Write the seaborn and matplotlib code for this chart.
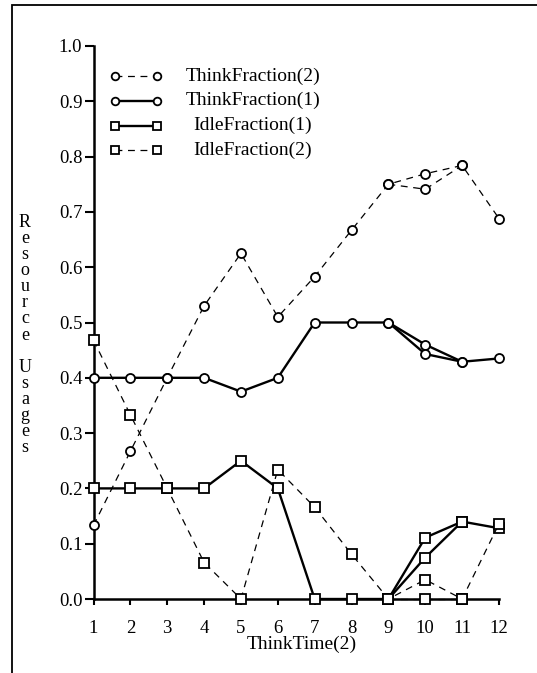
import matplotlib
matplotlib.use("Agg")
import matplotlib.pyplot as plt
import seaborn as sns
import pandas as pd
from matplotlib.lines import Line2D
from matplotlib.patches import Rectangle

# ---- data ----
think_time = [1, 2, 3, 4, 5, 6, 7, 8, 9, 10, 11, 12]
think_fraction_2 = [0.133, 0.267, 0.400, 0.530, 0.625, 0.510, 0.583, 0.667, 0.750, 0.769, 0.784, 0.688]
think_fraction_1 = [0.400, 0.400, 0.400, 0.400, 0.375, 0.400, 0.500, 0.500, 0.500, 0.460, 0.429, 0.435]
idle_fraction_1 = [0.200, 0.200, 0.200, 0.200, 0.250, 0.200, 0.000, 0.000, 0.000, 0.111, 0.140, 0.128]
idle_fraction_2 = [0.468, 0.333, 0.200, 0.066, 0.000, 0.234, 0.166, 0.081, 0.000, 0.035, 0.000, 0.136]
# second run differs only at ThinkTime 10
alt_x = [9, 10, 11]
think_fraction_2_alt10 = 0.741
think_fraction_1_alt10 = 0.443
idle_fraction_1_alt10 = 0.075
idle_fraction_2_alt10 = 0.000

labels = ["ThinkFraction(2)", "ThinkFraction(1)", "IdleFraction(1)", "IdleFraction(2)"]
y_ticks = [0.0, 0.1, 0.2, 0.3, 0.4, 0.5, 0.6, 0.7, 0.8, 0.9, 1.0]

sns.set_theme(style="white")
plt.rcParams["font.family"] = ["Liberation Serif", "DejaVu Serif"]

W, H = 537, 673
fig = plt.figure(figsize=(W / 100, H / 100), dpi=100)
ax_l, ax_r, ax_t, ax_b = 93.5, 499, 46, 599
ax = fig.add_axes([ax_l / W, 1 - ax_b / H, (ax_r - ax_l) / W, (ax_b - ax_t) / H])

series = [think_fraction_2, think_fraction_1, idle_fraction_1, idle_fraction_2]
alts = [think_fraction_2_alt10, think_fraction_1_alt10, idle_fraction_1_alt10, idle_fraction_2_alt10]
styles = [("o", "--", 0.9), ("o", "-", 1.7), ("s", "-", 1.7), ("s", "--", 0.9)]


def style_kw(mk, ls, lw, ms_o=6.5, ms_s=7):
    kw = dict(color="black", marker=mk, linewidth=lw,
              markersize=ms_o if mk == "o" else ms_s,
              markerfacecolor="white", markeredgecolor="black", markeredgewidth=1.3)
    if ls == "--":
        kw["dashes"] = (5.5, 4.5)
    else:
        kw["linestyle"] = "-"
    return kw


for vals, alt, (mk, ls, lw), lab in zip(series, alts, styles, labels):
    kw = style_kw(mk, ls, lw)
    df = pd.DataFrame({"x": think_time, "y": vals})
    sns.lineplot(data=df, x="x", y="y", ax=ax, clip_on=False, zorder=3, **kw)
    alt_y = [vals[8], alt, vals[10]]
    dfa = pd.DataFrame({"x": alt_x, "y": alt_y})
    sns.lineplot(data=dfa, x="x", y="y", ax=ax, clip_on=False, zorder=3, **kw)

ax.set_xlim(1, 12)
ax.set_ylim(0, 1)
ax.set_xticks(think_time)
ax.set_yticks(y_ticks)
ax.set_yticklabels([f"{t:.1f}" for t in y_ticks])
for s in ["top", "right"]:
    ax.spines[s].set_visible(False)
for s in ["left", "bottom"]:
    ax.spines[s].set_color("black")
    ax.spines[s].set_linewidth(1.8)
ax.tick_params(axis="y", direction="out", length=6.5, width=1.5, color="black",
               labelsize=13.5, labelcolor="black", pad=1.5, left=True)
ax.tick_params(axis="x", direction="out", length=4, width=1.5, color="black",
               labelsize=13.5, labelcolor="black", pad=11, bottom=True)
ax.set_xlabel("ThinkTime(2)", fontsize=14, color="black")
ax.xaxis.set_label_coords((302 - ax_l) / (ax_r - ax_l), (ax_b - 636) / (ax_b - ax_t))
ax.set_ylabel("")

# vertical stacked y label
ylab = "\n".join(list("Resource") + [""] + list("Usages"))
fig.text(25 / W, 1 - 335 / H, ylab, ha="center", va="center", fontsize=13,
         linespacing=0.93, color="black")

# legend drawn by hand (marker at both ends, centred labels)
rows_y = [76, 100.7, 125.7, 150]
for (mk, ls, lw), lab, yy in zip(styles, labels, rows_y):
    kw = style_kw(mk, ls, lw, ms_o=5.5, ms_s=6)
    fig.add_artist(Line2D([115 / W, 157 / W], [1 - yy / H] * 2, transform=fig.transFigure, **kw))
    fig.text(253 / W, 1 - yy / H, lab, ha="center", va="center", fontsize=14, color="black")

# scan border
fig.patches.append(Rectangle((12 / W, -0.1), 1.2, 1 - 5 / H + 0.1, transform=fig.transFigure,
                             fill=False, edgecolor="black", linewidth=1.3))

fig.savefig("out.png", dpi=100, facecolor="white")
